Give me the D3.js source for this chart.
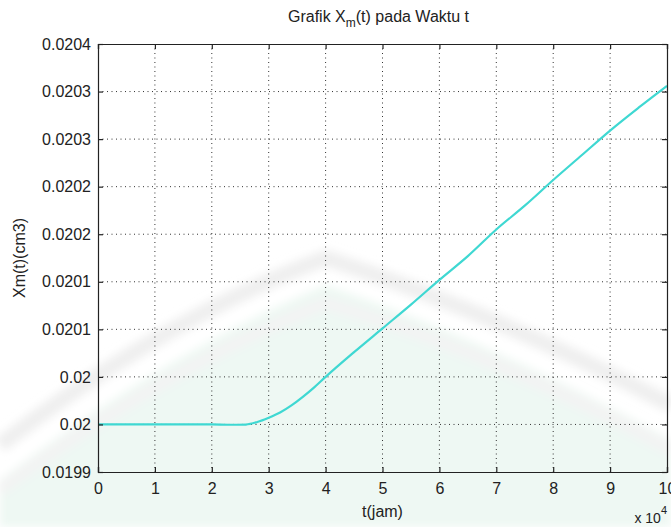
<!DOCTYPE html>
<html>
<head>
<meta charset="utf-8">
<script src="https://cdn.jsdelivr.net/npm/d3@7"></script>
<style>
  html, body { margin: 0; padding: 0; background: #ffffff; }
  svg { display: block; }
  text { font-family: "Liberation Sans", Arial, sans-serif; fill: #222; }
</style>
</head>
<body>
<svg id="chart" width="671" height="527"></svg>
<script>
// Time axis in units of 10^4 hours
const tValues = [0, 0.5, 1, 1.5, 2, 2.3, 2.6, 2.8, 3.0, 3.2, 3.4, 3.6, 3.8, 4.0,
                 4.5, 5, 5.5, 6, 6.5, 7, 7.5, 8, 8.5, 9, 9.5, 10];
// Xm(t) in cm3
const xmValues = [0.02, 0.02, 0.02, 0.02, 0.02, 0.0199997, 0.0199999, 0.0200025,
                  0.020007, 0.0200125, 0.02002, 0.020029, 0.020039, 0.02005,
                  0.020076, 0.020101, 0.020126, 0.020152, 0.020177, 0.020205,
                  0.02023, 0.020257, 0.020283, 0.020309, 0.020333, 0.020356];

const xTicks = [0, 1, 2, 3, 4, 5, 6, 7, 8, 9, 10];
const yTicks = [0.01995, 0.02, 0.02005, 0.0201, 0.02015, 0.0202, 0.02025, 0.0203, 0.02035, 0.0204];
const yTickLabels = ["0.0199", "0.02", "0.02", "0.0201", "0.0201", "0.0202", "0.0202", "0.0203", "0.0203", "0.0204"];

const titleMain = "Grafik X";
const titleSub = "m";
const titleRest = "(t) pada Waktu t";
const xLabel = "t(jam)";
const yLabel = "Xm(t)(cm3)";

const svg = d3.select("#chart");
const margin = { left: 98, top: 44, right: 4, bottom: 55 };
const W = 671, H = 527;
const plotW = W - margin.left - margin.right;
const plotH = H - margin.top - margin.bottom;

// faint, soft watermark behind the plot
const defs = svg.append("defs");
defs.append("filter").attr("id", "soft")
  .attr("x", "-10%").attr("y", "-10%").attr("width", "120%").attr("height", "120%")
  .append("feGaussianBlur").attr("stdDeviation", 4);
const wm = svg.append("g").attr("class", "watermark").attr("filter", "url(#soft)");
wm.append("path")
  .attr("d", "M0,480 Q170,350 326,285 Q500,345 671,440 L671,527 L0,527 Z")
  .attr("fill", "#eef8f3");
wm.append("path")
  .attr("d", "M0,445 Q170,315 326,258 Q500,315 671,405")
  .attr("fill", "none").attr("stroke", "#efefef").attr("stroke-width", 16);
wm.append("path")
  .attr("d", "M0,490 Q170,365 326,303 Q500,355 671,450")
  .attr("fill", "none").attr("stroke", "#f3f3f3").attr("stroke-width", 12);

const x = d3.scaleLinear().domain([0, 10]).range([0, plotW]);
const y = d3.scaleLinear().domain([0.01995, 0.0204]).range([plotH, 0]);

const g = svg.append("g").attr("transform", `translate(${margin.left},${margin.top})`);

// dotted grid
g.append("g").selectAll("line").data(xTicks.slice(1, -1)).join("line")
  .attr("x1", d => x(d)).attr("x2", d => x(d))
  .attr("y1", 0).attr("y2", plotH)
  .attr("stroke", "#333").attr("stroke-width", 1)
  .attr("stroke-dasharray", "1,3.5");
g.append("g").selectAll("line").data(yTicks.slice(1, -1)).join("line")
  .attr("x1", 0).attr("x2", plotW)
  .attr("y1", d => y(d)).attr("y2", d => y(d))
  .attr("stroke", "#333").attr("stroke-width", 1)
  .attr("stroke-dasharray", "1,3.5");

// data line
const line = d3.line()
  .x((d, i) => x(tValues[i]))
  .y(d => y(d))
  .curve(d3.curveMonotoneX);
g.append("path")
  .datum(xmValues)
  .attr("d", line)
  .attr("fill", "none")
  .attr("stroke", "#3fd8d2")
  .attr("stroke-width", 2.2);

// axes with inward ticks on all four sides
const fmtY = (d, i) => yTickLabels[i];
const axisL = d3.axisLeft(y).tickValues(yTicks).tickFormat(fmtY).tickSize(-5).tickPadding(7);
const axisB = d3.axisBottom(x).tickValues(xTicks).tickFormat(d3.format("d")).tickSize(-5).tickPadding(11);
const axisT = d3.axisTop(x).tickValues(xTicks).tickFormat("").tickSize(-5);
const axisR = d3.axisRight(y).tickValues(yTicks).tickFormat("").tickSize(-5);

function styleAxis(sel) {
  sel.select(".domain").attr("stroke", "#222").attr("stroke-width", 1.2);
  sel.selectAll(".tick line").attr("stroke", "#222").attr("stroke-width", 1.2);
  sel.selectAll(".tick text").attr("font-size", 16)
    .attr("font-family", "'Liberation Sans', Arial, sans-serif").attr("fill", "#333");
}
g.append("g").call(axisL).call(styleAxis);
g.append("g").attr("transform", `translate(0,${plotH})`).call(axisB).call(styleAxis);
g.append("g").call(axisT).call(styleAxis);
g.append("g").attr("transform", `translate(${plotW},0)`).call(axisR).call(styleAxis);

// title with subscript
const title = svg.append("text")
  .attr("x", margin.left + plotW / 2 - 4).attr("y", 22)
  .attr("text-anchor", "middle").attr("font-size", 16).attr("fill", "#222");
title.append("tspan").text(titleMain);
title.append("tspan").attr("dy", 5).attr("font-size", 12).text(titleSub);
title.append("tspan").attr("dy", -5).text(titleRest);

// axis labels
svg.append("text")
  .attr("x", margin.left + plotW / 2).attr("y", 517)
  .attr("text-anchor", "middle").attr("font-size", 16).attr("fill", "#333")
  .text(xLabel);

svg.append("text")
  .attr("transform", `translate(25,${margin.top + plotH / 2}) rotate(-90)`)
  .attr("text-anchor", "middle").attr("font-size", 16).attr("fill", "#333")
  .text(yLabel);

// exponent note for the time axis
const expo = svg.append("text")
  .attr("x", 667).attr("y", 523)
  .attr("text-anchor", "end").attr("font-size", 14).attr("fill", "#333");
expo.append("tspan").text("x 10");
expo.append("tspan").attr("dy", -9).attr("font-size", 11).text("4");
</script>
</body>
</html>
